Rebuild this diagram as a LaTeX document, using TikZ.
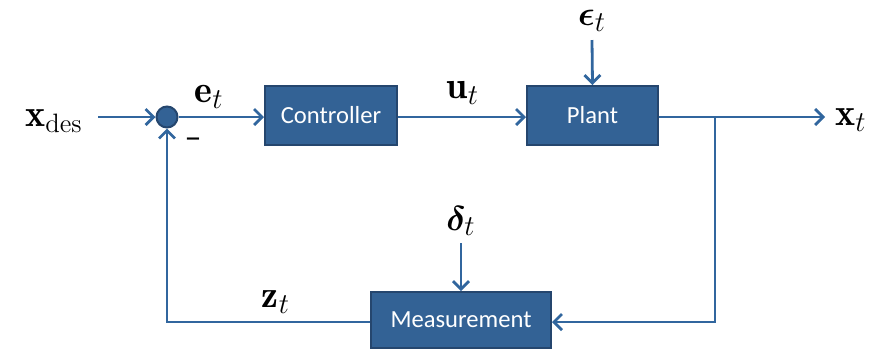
\documentclass[tikz,border=0pt]{standalone}
\usepackage{amsmath, amssymb, bm}
\usepackage{fontspec}
\newfontfamily\boxfont{Carlito}
\usetikzlibrary{positioning, arrows.meta}
\definecolor{BlockBlue}{RGB}{51, 98, 149}
\definecolor{BlockEdge}{RGB}{37, 70, 110}
\definecolor{WireBlue}{RGB}{49, 102, 158}

\tikzset{
  block/.style={draw=BlockEdge, fill=BlockBlue, line width=1pt, inner sep=0pt,
    text=white, font=\boxfont\fontsize{12.3}{14}\selectfont},
  wire/.style={draw=WireBlue, line width=1.4pt, -{Straight Barb[length=4pt,width=8pt]}},
  lbl/.style={font=\fontsize{19}{22}\selectfont, inner sep=0pt}
}

\begin{document}
\begin{tikzpicture}[x=0.5pt, y=-0.5pt]
    \useasboundingbox (0,0) rectangle (877,350);

    % Blocks
    \node[block, minimum width=66pt, minimum height=29.5pt] (ctrl) at (331,115.5) {Controller};
    \node[block, minimum width=65.5pt, minimum height=29.5pt] (plant) at (592.5,115.5) {Plant};
    \node[block, minimum width=90pt, minimum height=28pt] (meas) at (461,320) {Measurement};
    \node[circle, draw=BlockEdge, fill=BlockBlue, line width=1pt, minimum size=10.5pt, inner sep=0pt] (sum) at (167,117) {};

    % Signals
    \node[lbl] (xdes) at (54,121) {$\mathbf{x}_{\text{des}}$};
    \node[lbl] (xt) at (851,120) {$\mathbf{x}_t$};
    \node[lbl] (eps) at (592,21) {$\bm{\epsilon}_t$};
    \node[lbl] (delta) at (461,221) {$\bm{\delta}_t$};
    \node[lbl] (et) at (209,97) {$\mathbf{e}_t$};
    \node[lbl] (ut) at (463,93) {$\mathbf{u}_t$};
    \node[lbl] (zt) at (276,302) {$\mathbf{z}_t$};
    \node[font=\boxfont\fontsize{17}{19}\selectfont, inner sep=0pt] (minus) at (193,143) {–};

    \coordinate (split) at (715,117);
    \coordinate (back) at (715,322);
    \coordinate (low) at (167,322);
    \coordinate (start) at (98,117);

    % Forward path
    \draw[wire] (start) -- (sum.west);
    \draw[wire] (sum.east) -- (ctrl.west |- sum);
    \draw[wire] (ctrl.east |- sum) -- (plant.west |- sum);
    \draw[wire] (plant.east |- sum) -- (825,117);
    \draw[wire] (592,40) -- (plant.north);
    \draw[wire] (461,243) -- (meas.north);

    % Feedback
    \draw[wire] (split) -- (back) -- (meas.east |- back);
    \draw[wire] (meas.west |- low) -- (low) -- (sum.south);
\end{tikzpicture}
\end{document}
